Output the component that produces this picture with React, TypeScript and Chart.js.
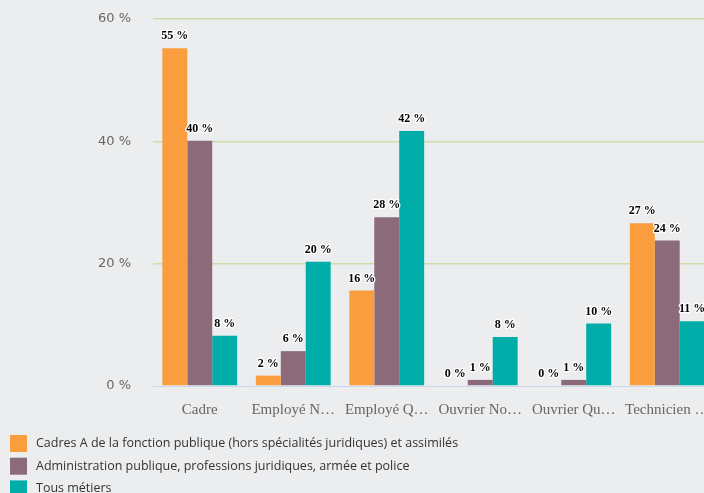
import React, { useEffect, useRef } from "react";
import { Chart, registerables } from "chart.js";

Chart.register(...registerables);

const categories = ["Cadre", "Employé N…", "Employé Q…", "Ouvrier No…", "Ouvrier Qu…", "Technicien …"];
const seriesNames = [
  "Cadres A de la fonction publique (hors spécialités juridiques) et assimilés",
  "Administration publique, professions juridiques, armée et police",
  "Tous métiers",
];
const cadresA = [55.2, 1.7, 15.6, 0, 0, 26.6];
const adminPublique = [40.1, 5.7, 27.6, 1.0, 1.0, 23.8];
const tousMetiers = [8.2, 20.3, 41.7, 8.0, 10.2, 10.6];
const seriesColors = ["#F99D3E", "#8B6A7A", "#00ADA8"];
const yTicks = [0, 20, 40, 60];

const BG = "#ECEDEF";

const valueLabels = {
  id: "valueLabels",
  afterDatasetsDraw(chart: any) {
    const ctx = chart.ctx;
    ctx.save();
    ctx.font = "bold 12px 'Liberation Serif'";
    ctx.textAlign = "center";
    ctx.textBaseline = "middle";
    ctx.lineJoin = "round";
    chart.data.datasets.forEach((ds: any, i: number) => {
      const meta = chart.getDatasetMeta(i);
      meta.data.forEach((bar: any, j: number) => {
        const txt = Math.round(ds.data[j]) + " %";
        const x = bar.x;
        const y = bar.y - 12;
        ctx.strokeStyle = "#ffffff";
        ctx.lineWidth = 2.5;
        ctx.strokeText(txt, x, y);
        ctx.fillStyle = "#000000";
        ctx.fillText(txt, x, y);
      });
    });
    ctx.restore();
  },
};

const bottomLegend = {
  id: "bottomLegend",
  afterDraw(chart: any) {
    const ctx = chart.ctx;
    ctx.save();
    ctx.font = "12.5px 'Open Sans'";
    ctx.textAlign = "left";
    ctx.textBaseline = "middle";
    chart.data.datasets.forEach((ds: any, i: number) => {
      const top = 435 + i * 22.7;
      ctx.fillStyle = ds.backgroundColor;
      ctx.fillRect(10, top, 17, 17);
      ctx.fillStyle = "#333333";
      ctx.fillText(ds.label, 36, top + 8.5);
    });
    ctx.restore();
  },
};

export default function App() {
  const ref = useRef<HTMLCanvasElement>(null);
  useEffect(() => {
    if (!ref.current) return;
    const chart = new Chart(ref.current, {
      type: "bar",
      data: {
        labels: categories,
        datasets: [
          { label: seriesNames[0], data: cadresA, backgroundColor: seriesColors[0] },
          { label: seriesNames[1], data: adminPublique, backgroundColor: seriesColors[1] },
          { label: seriesNames[2], data: tousMetiers, backgroundColor: seriesColors[2] },
        ],
      },
      options: {
        responsive: false,
        animation: false,
        layout: { padding: { top: 19, bottom: 71, left: 0, right: 0 } },
        datasets: { bar: { categoryPercentage: 0.8, barPercentage: 1.0, borderWidth: 0 } } as any,
        plugins: { legend: { display: false }, tooltip: { enabled: false } },
        scales: {
          x: {
            grid: { display: false, drawTicks: false },
            border: { display: true, color: "#CCD6EB", width: 1 },
            ticks: {
              font: { family: "'Liberation Serif'", size: 15 },
              color: "#666666",
              padding: 15,
              maxRotation: 0,
              autoSkip: false,
            },
            afterFit: (s: any) => {
              s.height = 36;
              s.paddingRight = 0;
              s.paddingLeft = 0;
            },
          },
          y: {
            min: 0,
            max: 60,
            afterBuildTicks: (s: any) => {
              s.ticks = yTicks.map((v) => ({ value: v }));
            },
            ticks: {
              font: { family: "'DejaVu Sans'", size: 13 },
              color: "#666666",
              padding: 0,
              callback: (v: any) => v + " %",
            },
            border: { display: false },
            grid: {
              drawTicks: true,
              tickLength: 22,
              tickColor: "rgba(0,0,0,0)",
              lineWidth: 1.5,
              color: (c: any) => (c.tick && c.tick.value === 0 ? "rgba(0,0,0,0)" : "#D0DBA8"),
            },
            afterFit: (s: any) => {
              s.width = 153;
            },
          },
        },
      },
      plugins: [valueLabels, bottomLegend],
    });
    return () => chart.destroy();
  }, []);
  return (
    <div
      style={{
        position: "fixed",
        left: 0,
        top: 0,
        width: 704,
        height: 493,
        overflow: "hidden",
        background: BG,
      }}
    >
      <canvas ref={ref} width={714} height={493} style={{ display: "block" }} />
    </div>
  );
}
